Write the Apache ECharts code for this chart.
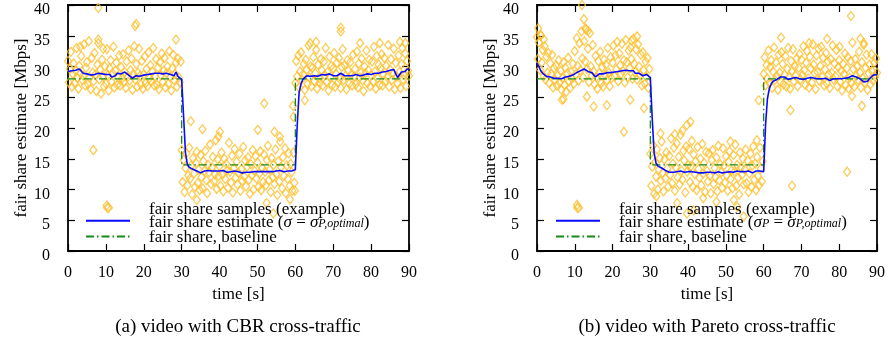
<!DOCTYPE html>
<html>
<head>
<meta charset="utf-8">
<script src="https://cdn.jsdelivr.net/npm/echarts/dist/echarts.min.js"></script>
<style>
  html, body { margin: 0; padding: 0; background: #fff; }
  #chart { width: 888px; height: 352px; }
</style>
</head>
<body>
<div id="chart"></div>
<script>
// sample cloud, one value every 0.25 s from t = 0 to 90
const sampleStep = 0.25
const samplesA = [
  30.9, 27.4, 29.6, 32.4, 26.7, 28.8, 30.5, 27.3, 29.3, 33.0, 28.1, 26.4, 30.1, 28.9, 31.7, 27.8, 28.5, 33.6, 26.9, 29.8,
  30.7, 27.1, 34.1, 28.2, 26.3, 31.4, 29.0, 27.6, 32.2, 28.7, 26.0, 30.3, 34.4, 27.9, 29.5, 25.6, 31.1, 28.4, 26.8, 30.0,
  27.2, 32.8, 28.6, 26.1, 29.7, 31.0, 27.5, 28.9, 33.2, 26.6, 29.3, 30.6, 27.0, 28.2, 31.8, 26.9, 29.9, 28.0, 32.0, 27.4,
  29.1, 26.5, 30.8, 28.3, 32.6, 27.7, 29.4, 31.3, 26.2, 28.8, 33.3, 27.9, 30.4, 26.7, 29.0, 32.9, 28.5, 27.1, 30.9, 26.4,
  28.7, 31.6, 27.3, 29.6, 26.8, 32.3, 28.1, 30.2, 27.6, 29.2, 33.0, 26.9, 28.4, 31.2, 27.0, 29.8, 26.3, 30.7, 28.6, 32.1,
  27.5, 29.3, 31.4, 26.6, 28.9, 30.0, 27.2, 32.5, 28.3, 26.1, 29.7, 31.9, 27.8, 28.8, 30.6, 26.7, 31.3, 28.2, 27.4, 30.8,
  16.4, 11.2, 14.8, 9.6, 13.5, 15.9, 10.7, 12.3, 16.8, 11.8, 13.9, 9.2, 15.1, 12.6, 10.4, 14.3, 16.1, 11.0, 13.2, 9.9,
  15.6, 12.0, 10.2, 14.6, 13.0, 16.3, 11.5, 9.4, 14.0, 12.8, 17.3, 10.9, 13.6, 15.3, 11.3, 12.5, 18.0, 10.1, 14.9, 12.2,
  13.8, 10.6, 16.0, 12.4, 9.7, 15.0, 11.7, 14.2, 13.1, 10.3, 17.6, 12.9, 11.1, 15.5, 9.5, 13.4, 16.6, 11.9, 14.5, 10.8,
  12.7, 15.8, 9.8, 13.3, 11.4, 16.9, 12.1, 14.7, 10.5, 13.7, 15.2, 11.6, 9.3, 14.1, 12.3, 16.4, 10.0, 13.0, 15.4, 11.8,
  14.4, 10.4, 12.6, 16.2, 9.9, 13.5, 11.2, 15.7, 12.9, 10.7, 14.8, 17.1, 11.5, 13.2, 9.6, 15.1, 12.0, 14.0, 10.9, 16.5,
  12.5, 9.1, 14.6, 11.3, 17.8, 13.6, 10.2, 15.3, 12.2, 16.7, 9.4, 13.9, 11.7, 15.9, 10.6, 14.2, 12.8, 9.8, 16.0, 11.1,
  27.3, 30.9, 28.4, 31.8, 26.6, 29.2, 32.3, 27.9, 28.7, 30.4, 26.2, 31.1, 29.5, 27.1, 33.4, 28.2, 30.0, 26.8, 29.8, 31.5,
  27.6, 28.9, 32.7, 26.4, 30.3, 28.1, 27.3, 31.2, 29.4, 26.9, 30.8, 28.6, 33.0, 27.5, 29.1, 26.1, 31.6, 28.3, 30.1, 27.0,
  29.7, 32.2, 26.7, 28.8, 30.6, 27.4, 31.4, 28.0, 26.5, 29.9, 32.8, 27.8, 30.2, 28.5, 26.3, 31.0, 29.3, 27.2, 30.7, 28.7,
  26.9, 31.9, 28.4, 29.6, 27.1, 32.4, 26.6, 30.5, 28.2, 29.0, 31.3, 27.7, 26.0, 30.0, 28.9, 32.6, 27.3, 29.4, 31.1, 26.8,
  28.6, 30.8, 27.5, 33.2, 29.2, 26.4, 31.7, 28.1, 30.3, 27.0, 29.8, 32.0, 26.9, 28.7, 31.4, 27.6, 30.1, 28.3, 33.5, 26.7,
  29.5, 31.2, 27.8, 28.9, 32.9, 26.3, 30.6, 28.4, 27.2, 31.8, 29.1, 26.5, 30.4, 33.0, 27.9, 28.6, 32.1, 26.8, 30.9, 29.3,
  28.5
]
const outlierTimeA = [8.0, 17.7, 18.0, 28.5, 8.0, 3.2, 9.3, 6.7, 10.2,
  32.4, 35.5, 40.1, 39.7, 50.1, 51.8, 54.5, 55.9, 59.5, 59.4, 34.0, 52.4, 54.2, 58.6, 59.9,
  62.5, 72.0, 72.0, 77.1, 82.3, 87.6, 89.0, 63.9, 65.5]
const outlierValueA = [39.5, 36.6, 36.9, 34.4, 33.8, 33.2, 32.9, 16.4, 7.4,
  21.1, 19.8, 19.4, 18.6, 19.7, 24.0, 19.4, 18.6, 21.8, 23.6, 8.3, 7.8, 6.1, 8.4, 9.8,
  24.5, 35.7, 36.3, 33.8, 33.8, 34.0, 33.8, 33.8, 34.0]

const samplesB = [
  34.8, 31.2, 33.9, 29.5, 35.1, 30.6, 32.7, 28.4, 33.3, 27.9, 31.6, 29.0, 32.2, 27.3, 30.5, 28.8, 31.9, 26.6, 29.7, 27.8,
  30.2, 26.9, 28.6, 31.0, 27.4, 29.3, 26.2, 28.1, 30.7, 27.0, 29.8, 25.9, 28.9, 31.4, 27.6, 26.5, 29.1, 28.0, 30.4, 27.2,
  32.5, 28.7, 34.6, 30.1, 27.7, 33.8, 29.4, 35.7, 31.3, 28.2, 34.1, 30.8, 36.0, 29.6, 32.9, 27.5, 35.4, 30.0, 28.5, 33.5,
  29.2, 27.1, 31.7, 28.3, 26.4, 30.9, 28.9, 32.4, 27.3, 29.9, 26.7, 31.1, 28.6, 30.3, 27.8, 33.0, 29.0, 26.8, 31.5, 28.1,
  30.6, 33.4, 28.4, 31.8, 29.5, 34.0, 27.6, 32.1, 30.2, 28.8, 33.7, 29.3, 31.0, 27.4, 34.3, 30.7, 28.2, 32.6, 29.7, 33.1,
  31.2, 28.0, 34.5, 30.4, 29.1, 32.8, 27.9, 33.6, 30.0, 28.6, 31.9, 26.9, 32.3, 29.4, 27.2, 30.8, 28.3, 31.4, 26.5, 29.6,
  15.8, 10.6, 13.7, 17.2, 9.3, 14.4, 12.1, 16.5, 10.0, 13.2, 15.1, 11.4, 17.8, 12.7, 9.7, 14.9, 11.8, 16.0, 13.4, 10.5,
  15.5, 12.4, 18.3, 11.0, 14.2, 16.8, 9.8, 13.6, 17.5, 12.0, 15.3, 10.8, 18.9, 13.1, 11.6, 16.3, 14.7, 9.5, 17.0, 12.9,
  14.0, 16.6, 11.2, 13.8, 17.9, 10.4, 15.7, 12.5, 14.6, 9.9, 16.9, 13.3, 11.9, 15.0, 10.7, 17.4, 12.6, 14.3, 9.6, 16.1,
  13.0, 11.3, 15.9, 12.2, 9.4, 14.8, 16.4, 10.9, 13.5, 12.0, 15.2, 9.7, 17.1, 11.5, 14.1, 12.8, 10.3, 16.7, 13.9, 11.1,
  15.4, 12.3, 9.8, 14.5, 16.2, 11.7, 13.1, 10.2, 15.6, 12.9, 17.3, 10.6, 14.0, 11.9, 9.2, 16.0, 13.6, 12.4, 15.0, 10.8,
  13.3, 16.5, 11.0, 14.7, 9.6, 12.6, 15.8, 10.4, 13.9, 17.0, 11.6, 14.2, 9.9, 15.3, 12.2, 10.7, 16.8, 13.4, 11.3, 14.6,
  28.8, 31.5, 26.9, 30.2, 28.0, 32.6, 27.3, 29.9, 31.0, 26.5, 29.2, 33.1, 27.8, 30.7, 28.4, 26.2, 31.9, 29.0, 27.5, 32.3,
  30.4, 27.1, 28.7, 31.7, 26.7, 29.6, 33.0, 28.2, 26.4, 30.9, 29.3, 32.8, 27.6, 30.0, 28.5, 31.3, 26.8, 29.8, 32.0, 27.9,
  31.1, 28.6, 33.3, 29.4, 27.0, 30.6, 32.5, 28.1, 26.6, 31.6, 29.7, 27.4, 33.6, 30.3, 28.9, 26.3, 31.8, 29.1, 32.9, 27.7,
  30.1, 33.2, 28.3, 31.4, 26.9, 29.5, 32.2, 27.2, 30.8, 28.7, 26.5, 31.2, 29.0, 33.4, 27.9, 30.5, 28.4, 32.7, 26.8, 29.9,
  31.0, 27.5, 29.3, 26.1, 30.4, 28.8, 32.1, 27.0, 29.7, 31.5, 26.4, 28.2, 30.9, 27.3, 33.9, 29.6, 26.7, 31.2, 28.5, 30.0,
  27.8, 32.4, 29.0, 26.6, 30.7, 28.1, 33.5, 27.4, 29.8, 31.9, 26.2, 28.9, 30.3, 27.1, 32.0, 29.2, 27.7, 30.6, 28.3, 31.3,
  29.0
]
const outlierTimeB = [0.3, 1.0, 1.8, 11.9, 12.4, 12.8, 13.5, 25.0, 26.5, 10.6, 23.0, 13.2, 15.0, 18.5, 6.6, 7.0, 24.7, 28.3,
  32.7, 39.7, 40.6, 38.5, 36.5, 51.2, 58.2, 31.6, 37.1, 39.7, 41.5, 54.7, 53.0, 52.1, 58.7, 47.5, 44.0,
  64.6, 67.1, 67.5, 82.1, 83.1, 86.0, 83.4, 85.6, 86.5, 80.1, 76.8, 72.0]
const outlierValueB = [36.2, 35.0, 34.4, 40.0, 37.7, 36.2, 35.8, 34.2, 34.9, 7.5, 19.4, 25.1, 23.5, 23.7, 24.6, 24.7, 24.6, 23.2,
  19.1, 20.5, 21.0, 19.6, 19.0, 17.8, 18.0, 8.9, 7.8, 6.1, 6.6, 5.6, 7.2, 8.3, 24.5, 8.0, 8.6,
  34.7, 22.9, 10.6, 12.9, 38.2, 23.6, 25.2, 34.5, 33.8, 33.2, 34.5, 33.8]

// estimate, one value every 0.5 s
const estimateStep = 0.5
const estimateA = [
  29.2, 29.4, 29.3, 29.5, 29.4, 29.6, 29.6, 29.4, 28.9, 29.0,
  28.8, 28.9, 28.6, 28.5, 28.7, 28.8, 28.9, 28.7, 28.8, 28.6,
  28.7, 28.9, 28.7, 28.3, 28.2, 28.5, 28.9, 28.6, 28.8, 29.0,
  29.1, 28.8, 28.6, 28.7, 28.1, 28.2, 28.5, 28.6, 28.4, 28.7,
  28.6, 28.8, 28.7, 28.6, 28.8, 28.7, 28.9, 28.8, 28.9, 28.9,
  28.8, 29.0, 28.9, 29.0, 28.7, 28.9, 28.5, 29.1, 28.4, 28.1,
  27.9, 22.0, 16.0, 14.1, 13.6, 13.5, 13.3, 13.2, 13.0, 12.8,
  12.7, 12.9, 13.0, 12.9, 13.1, 12.9, 13.0, 12.9, 13.0, 12.9,
  13.0, 12.9, 13.1, 12.9, 12.8, 13.0, 12.9, 12.8, 13.0, 12.9,
  12.9, 12.8, 12.7, 12.9, 12.8, 12.7, 12.8, 12.7, 12.9, 12.8,
  12.9, 13.0, 12.9, 12.8, 12.9, 13.0, 12.9, 13.1, 12.9, 12.8,
  13.0, 12.9, 13.1, 13.0, 12.9, 13.1, 13.0, 13.1, 13.0, 13.2,
  13.2, 20.5, 25.8, 27.2, 27.9, 28.2, 28.5, 28.8, 28.4, 28.6,
  28.5, 28.6, 28.4, 28.5, 28.7, 28.5, 28.6, 28.5, 28.8, 28.6,
  28.5, 28.6, 28.5, 28.7, 28.9, 28.6, 28.5, 28.4, 28.5, 28.6,
  28.5, 28.6, 28.7, 28.6, 28.5, 28.7, 28.6, 28.7, 28.8, 28.6,
  28.7, 28.8, 28.9, 29.0, 28.9, 29.0, 29.1, 29.0, 29.2, 29.3,
  29.4, 29.2, 29.5, 28.8, 28.2, 28.4, 29.1, 29.4, 29.2, 29.6,
  29.5
]
const estimateB = [
  30.6, 30.0, 29.3, 28.9, 28.6, 28.4, 28.2, 28.3, 28.0, 28.1,
  28.3, 28.1, 28.2, 28.0, 28.2, 28.3, 28.1, 28.4, 28.5, 28.6,
  28.9, 29.0, 29.1, 29.3, 29.5, 29.6, 29.4, 29.2, 29.3, 29.0,
  28.9, 28.3, 28.2, 28.8, 28.9, 28.8, 28.9, 29.0, 28.9, 29.0,
  29.0, 29.1, 29.3, 29.2, 29.4, 29.3, 29.5, 29.4, 29.6, 29.3,
  29.2, 29.3, 28.9, 28.8, 28.9, 28.7, 28.5, 28.2, 28.7, 28.4,
  28.2, 21.5, 16.0, 14.3, 13.8, 13.6, 13.5, 13.3, 13.1, 12.9,
  12.8, 12.7, 12.8, 12.7, 12.9, 12.8, 13.0, 12.9, 12.8, 12.8,
  12.9, 12.8, 12.9, 13.0, 12.8, 12.6, 12.7, 12.8, 12.7, 12.9,
  12.8, 12.9, 12.8, 12.9, 12.7, 12.8, 12.9, 12.8, 12.7, 12.8,
  12.8, 12.7, 12.9, 12.8, 12.8, 12.9, 13.0, 12.8, 12.9, 12.8,
  12.9, 12.8, 13.0, 12.9, 12.7, 12.9, 13.0, 12.8, 13.0, 12.7,
  12.9, 20.5, 24.8, 26.4, 27.2, 27.6, 27.8, 27.9, 28.1, 28.3,
  28.2, 28.3, 28.1, 27.9, 28.0, 28.1, 28.0, 28.2, 28.1, 28.0,
  28.1, 27.9, 28.0, 28.1, 28.0, 28.2, 28.0, 28.1, 27.9, 28.0,
  28.1, 28.0, 27.9, 28.1, 28.0, 27.7, 27.8, 28.0, 28.1, 28.0,
  28.1, 28.0, 28.2, 28.1, 28.0, 28.2, 28.3, 28.5, 28.6, 28.3,
  28.2, 28.0, 27.8, 27.5, 27.8, 27.6, 28.0, 28.3, 28.6, 28.8,
  28.7
]

// baseline steps
const baselineTime = [0, 30, 30, 60, 60, 90]
const baselineA = [28, 28, 14, 14, 28, 28]
const baselineB = [28, 28, 14, 14, 28, 28]

const xTicks = [0, 10, 20, 30, 40, 50, 60, 70, 80, 90]
const yTicks = [0, 5, 10, 15, 20, 25, 30, 35, 40]

const captions = ['(a) video with CBR cross-traffic', '(b) video with Pareto cross-traffic']
const nameSamples = 'fair share samples (example)'
const nameEstimateA = 'fair share estimate (σ = σP,optimal)'
const nameEstimateB = 'fair share estimate (σP = σP,optimal)'
const nameBaseline = 'fair share, baseline'

const font = 'Liberation Serif'
const sampleColor = '#fdbf2c'
const estimateColor = '#0a0aff'
const baselineColor = '#168a16'

function cloud (values, step, times, extra) {
    const pts = values.map((v, i) => [i * step, v])
    times.forEach((t, i) => pts.push([t, extra[i]]))
    return pts
}
function line (values, step) {
    return values.map((v, i) => [i * step, v])
}
function steps (times, values) {
    return times.map((t, i) => [t, values[i]])
}

const grids = [
    { left: 68, top: 5, width: 341, height: 246 },
    { left: 537, top: 5, width: 340, height: 246 }
]

const tickLine = { show: true, inside: true, length: 7, lineStyle: { color: '#000', width: 1.2 } }
const frameLine = { show: true, onZero: false, lineStyle: { color: '#000', width: 1.8 } }

const xAxes = []
const yAxes = []
grids.forEach((g, gi) => {
    const xBase = {
        gridIndex: gi, type: 'value', min: xTicks[0], max: xTicks[xTicks.length - 1],
        interval: xTicks[1] - xTicks[0], axisLine: frameLine, axisTick: tickLine, splitLine: { show: false }
    }
    const yBase = {
        gridIndex: gi, type: 'value', min: yTicks[0], max: yTicks[yTicks.length - 1],
        interval: yTicks[1] - yTicks[0], axisLine: frameLine, axisTick: tickLine, splitLine: { show: false }
    }
    xAxes.push(Object.assign({}, xBase, {
        position: 'bottom',
        name: 'time [s]', nameLocation: 'middle', nameGap: 33,
        nameTextStyle: { fontFamily: font, fontSize: 17, color: '#000' },
        axisLabel: { margin: 14, fontFamily: font, fontSize: 16, color: '#000' }
    }))
    xAxes.push(Object.assign({}, xBase, { position: 'top', axisLabel: { show: false } }))
    yAxes.push(Object.assign({}, yBase, {
        position: 'left',
        name: 'fair share estimate [Mbps]', nameLocation: 'middle', nameGap: 32,
        nameTextStyle: { fontFamily: font, fontSize: 17, color: '#000' },
        axisLabel: { margin: 18, fontFamily: font, fontSize: 16, color: '#000', verticalAlign: 'top', lineHeight: 10 }
    }))
    yAxes.push(Object.assign({}, yBase, { position: 'right', axisLabel: { show: false } }))
})

function panelSeries (gi, samples, oT, oV, estimate, estimateName, baseline) {
    return [
        {
            name: nameSamples, type: 'scatter', xAxisIndex: gi * 2, yAxisIndex: gi * 2,
            symbol: 'diamond', symbolSize: [7, 9],
            itemStyle: { color: 'rgba(255,255,255,0)', borderColor: sampleColor, borderWidth: 1.3 },
            data: cloud(samples, sampleStep, oT, oV)
        },
        {
            name: nameBaseline, type: 'line', xAxisIndex: gi * 2, yAxisIndex: gi * 2,
            showSymbol: false, symbol: 'none',
            lineStyle: { color: baselineColor, width: 1.3, type: [8, 3, 1.5, 3] },
            data: steps(baselineTime, baseline)
        },
        {
            name: estimateName, type: 'line', xAxisIndex: gi * 2, yAxisIndex: gi * 2,
            showSymbol: false, symbol: 'none',
            lineStyle: { color: estimateColor, width: 1.6 },
            data: line(estimate, estimateStep)
        }
    ]
}

const richText = {
    i: { fontFamily: font, fontSize: 17, fontStyle: 'italic', color: '#000', lineHeight: 14.5 },
    sub: { fontFamily: font, fontSize: 12, fontStyle: 'italic', color: '#000', lineHeight: 14.5, verticalAlign: 'bottom' }
}
function legendLabel (name) {
    if (name === nameEstimateA) return 'fair share estimate ({i|σ} = {i|σ}{sub|P,optimal})'
    if (name === nameEstimateB) return 'fair share estimate ({i|σ}{sub|P} = {i|σ}{sub|P,optimal})'
    return name
}
const legendText = { fontFamily: font, fontSize: 17, color: '#000', lineHeight: 14.5, rich: richText }

// diamond item gets its own legend so the icon keeps its shape
function sampleLegend (left) {
    return {
        left: left + 18, top: 199, orient: 'vertical', itemWidth: 8, itemHeight: 9, padding: 0,
        selectedMode: false, data: [{ name: nameSamples, icon: 'diamond' }],
        textStyle: Object.assign({}, legendText, { padding: [3, 0, 0, 32] })
    }
}
function lineLegend (left, estimateName) {
    return {
        left: left, top: 212, orient: 'vertical', itemWidth: 44, itemHeight: 8, itemGap: -3, padding: 0,
        selectedMode: false,
        data: [
            { name: estimateName, itemStyle: { opacity: 0 } },
            { name: nameBaseline, itemStyle: { opacity: 0 } }
        ],
        formatter: legendLabel,
        textStyle: Object.assign({}, legendText, { padding: [3, 0, 0, 14] })
    }
}

const myChart = echarts.init(document.getElementById('chart'), null, { renderer: 'canvas' })
myChart.setOption({
    animation: false,
    backgroundColor: '#fff',
    grid: grids,
    xAxis: xAxes,
    yAxis: yAxes,
    legend: [
        sampleLegend(85), lineLegend(85, nameEstimateA),
        sampleLegend(555), lineLegend(555, nameEstimateB)
    ],
    graphic: [
        { type: 'text', x: 238, y: 327, style: { text: captions[0], fontFamily: font, fontSize: 19, fill: '#000', textAlign: 'center', textVerticalAlign: 'middle' } },
        { type: 'text', x: 707, y: 327, style: { text: captions[1], fontFamily: font, fontSize: 19, fill: '#000', textAlign: 'center', textVerticalAlign: 'middle' } }
    ],
    series: [].concat(
        panelSeries(0, samplesA, outlierTimeA, outlierValueA, estimateA, nameEstimateA, baselineA),
        panelSeries(1, samplesB, outlierTimeB, outlierValueB, estimateB, nameEstimateB, baselineB)
    )
})
</script>
</body>
</html>
